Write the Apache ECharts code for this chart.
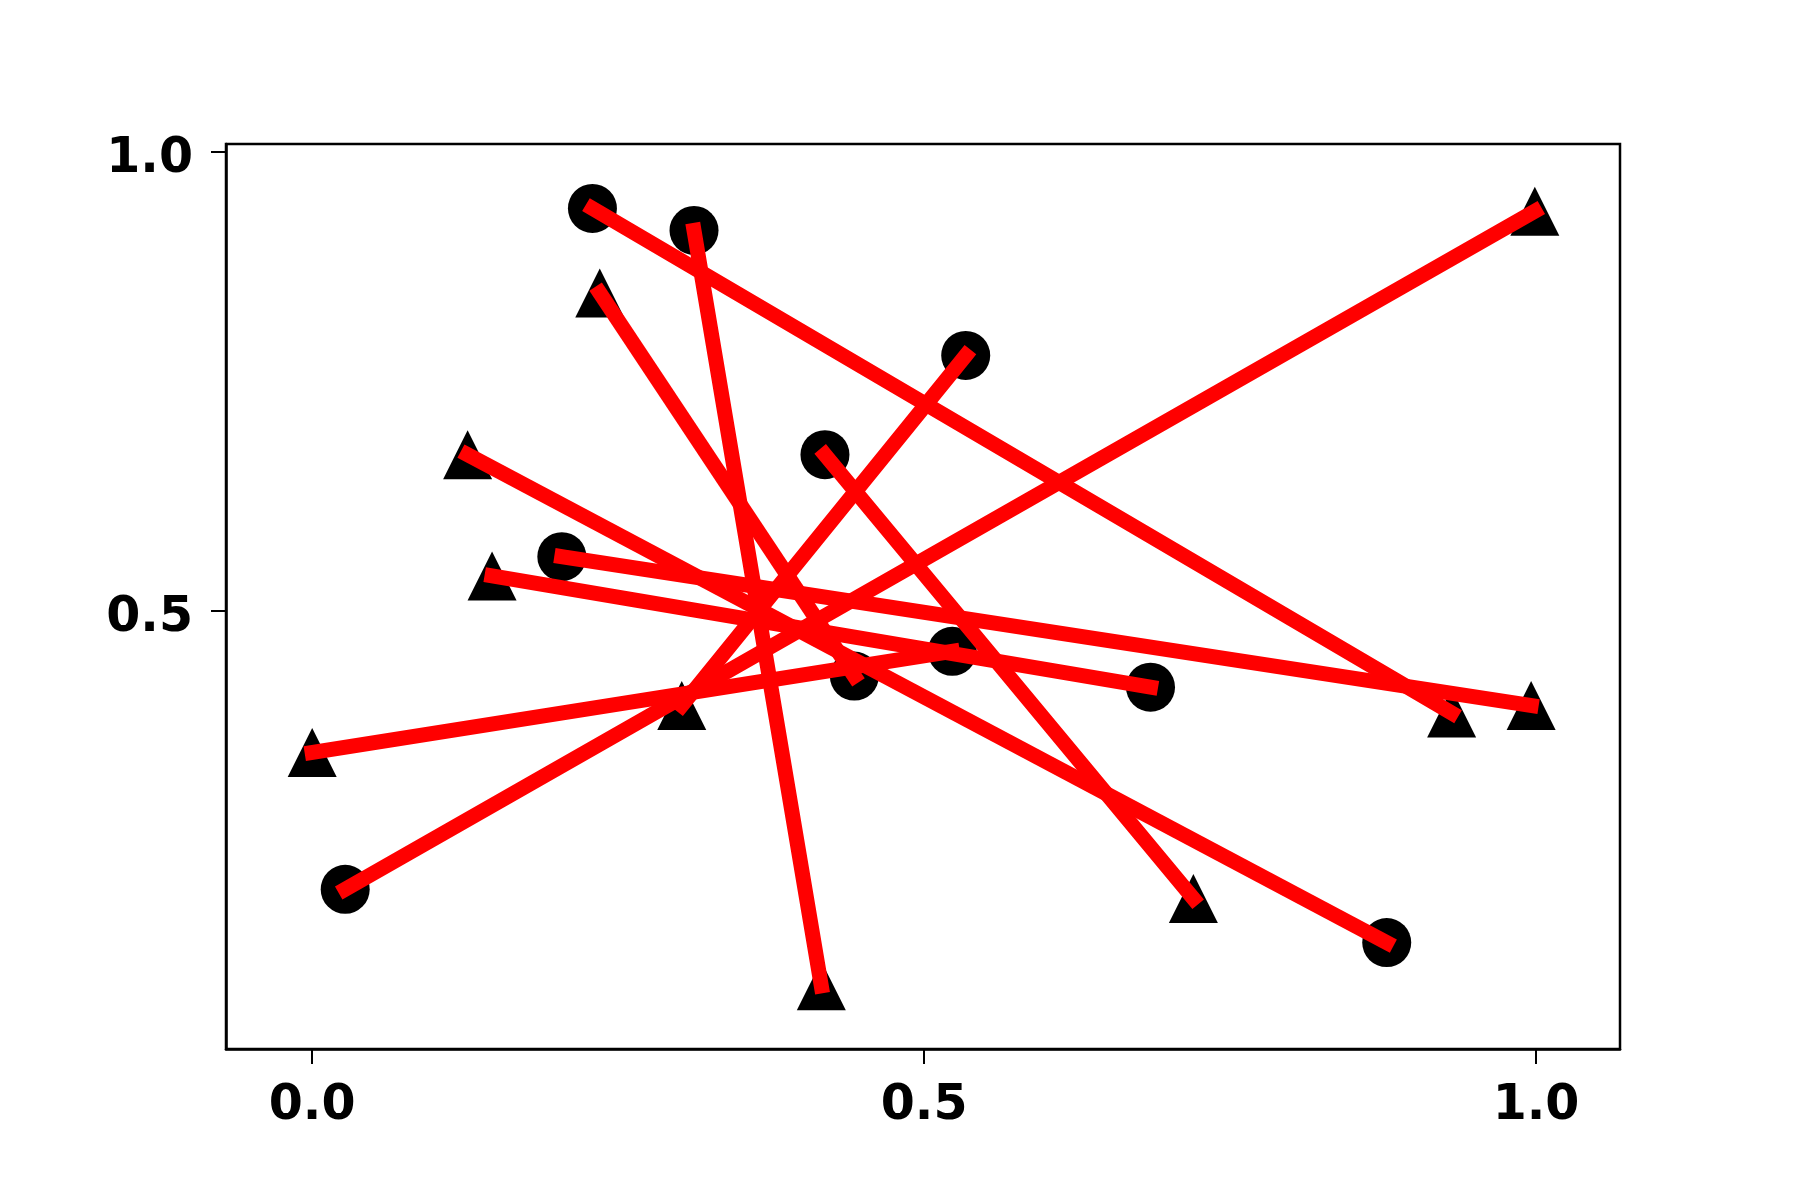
<!DOCTYPE html>
<html>
<head>
<meta charset="utf-8">
<script src="https://cdn.jsdelivr.net/npm/echarts@6/dist/echarts.min.js"></script>
<style>
  html, body { margin: 0; padding: 0; background: #fff; }
  #chart { width: 1800px; height: 1200px; }
</style>
</head>
<body>
<div id="chart"></div>
<script>
// circle i is joined to triangle i by a red segment
var circleX = [0.229, 0.312, 0.443, 0.534, 0.419, 0.878, 0.204, 0.685, 0.523, 0.027];
var circleY = [0.938, 0.914, 0.429, 0.778, 0.670, 0.139, 0.559, 0.417, 0.456, 0.197];
var triX = [0.931, 0.416, 0.235, 0.302, 0.720, 0.127, 0.996, 0.147, 0.000, 0.999];
var triY = [0.389, 0.092, 0.846, 0.397, 0.187, 0.670, 0.397, 0.538, 0.346, 0.935];
var xTicks = [0, 0.5, 1.0];
var yTicks = [0.5, 1.0];

var labelFont = {
  fontFamily: 'DejaVu Sans',
  fontWeight: 'bold',
  fontSize: 49,
  color: '#000'
};

var circles = [], tris = [];
for (var i = 0; i < circleX.length; i++) {
  circles.push([circleX[i], circleY[i]]);
  tris.push([triX[i], triY[i]]);
}

var series = [
  {
    type: 'scatter', symbol: 'circle', symbolSize: 49,
    itemStyle: { color: '#000', opacity: 1 }, data: circles, z: 2
  },
  {
    type: 'scatter', symbol: 'triangle', symbolSize: 49,
    itemStyle: { color: '#000', opacity: 1 }, data: tris, z: 2
  }
];
for (var k = 0; k < circleX.length; k++) {
  series.push({
    type: 'line',
    symbol: 'none',
    data: [[circleX[k], circleY[k]], [triX[k], triY[k]]],
    lineStyle: { color: '#ff0000', width: 15, cap: 'square' },
    z: 3
  });
}

var el = echarts.init(document.getElementById('chart'));
el.setOption({
  animation: false,
  backgroundColor: '#fff',
  grid: {
    left: 226, right: 180, top: 144, bottom: 151,
    show: true, borderColor: '#000', borderWidth: 2.5, backgroundColor: 'transparent'
  },
  xAxis: {
    type: 'value', min: -0.0704, max: 1.0686,
    axisLine: { show: true, onZero: false, lineStyle: { color: '#000', width: 2.5 } },
    axisTick: { show: true, customValues: xTicks, length: 15, lineStyle: { color: '#000', width: 2 } },
    axisLabel: Object.assign({
      customValues: xTicks, margin: 33,
      formatter: function (v) { return v.toFixed(1); }
    }, labelFont),
    splitLine: { show: false }
  },
  yAxis: {
    type: 'value', min: 0.0232, max: 1.0081,
    axisLine: { show: true, onZero: false, lineStyle: { color: '#000', width: 2.5 } },
    axisTick: { show: true, customValues: yTicks, length: 15, lineStyle: { color: '#000', width: 2 } },
    axisLabel: Object.assign({
      customValues: yTicks, margin: 33, verticalAlign: 'top', lineHeight: 15,
      formatter: function (v) { return v.toFixed(1); }
    }, labelFont),
    splitLine: { show: false }
  },
  series: series
});
</script>
</body>
</html>
